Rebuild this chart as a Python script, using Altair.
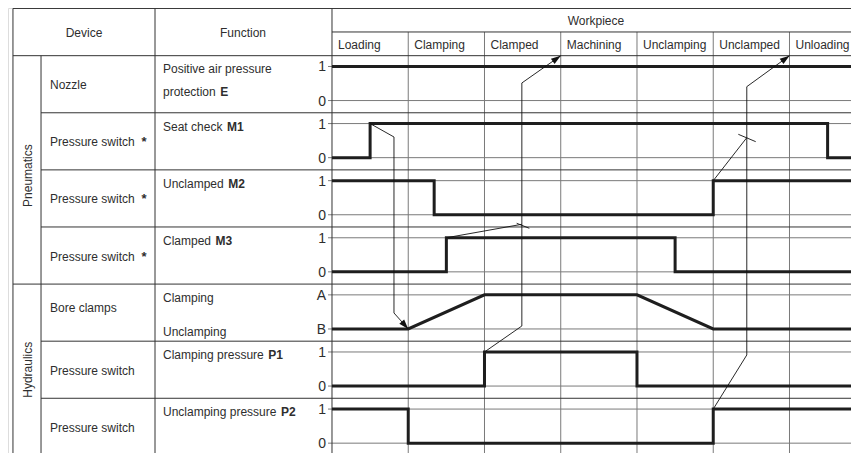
import math
import altair as alt
import pandas as pd

# ---------------- data ----------------
phases = ["Loading", "Clamping", "Clamped", "Machining", "Unclamping", "Unclamped", "Unloading"]
sections = ["Pneumatics", "Hydraulics"]
section_rows = [(0, 4), (4, 7)]
devices = ["Nozzle", "Pressure switch", "Pressure switch", "Pressure switch",
           "Bore clamps", "Pressure switch", "Pressure switch"]
device_star = [False, True, True, True, False, False, False]
function_lines = [["Positive air pressure", "protection"], ["Seat check"], ["Unclamped"],
                  ["Clamped"], ["Clamping", "Unclamping"], ["Clamping pressure"],
                  ["Unclamping pressure"]]
function_tags = ["E", "M1", "M2", "M3", "", "P1", "P2"]
level_names = [("1", "0"), ("1", "0"), ("1", "0"), ("1", "0"), ("A", "B"), ("1", "0"), ("1", "0")]

# signal breakpoints: time in workpiece phases, level (1 = high / A, 0 = low / B)
sig_times = [
    [0, 7],
    [0, 0.5, 0.5, 6.5, 6.5, 7],
    [0, 1.34, 1.34, 5, 5, 7],
    [0, 1.5, 1.5, 4.5, 4.5, 7],
    [0, 1, 2, 4, 5, 7],
    [0, 2, 2, 4, 4, 7],
    [0, 1, 1, 5, 5, 7],
]
sig_levels = [
    [1, 1],
    [0, 0, 1, 1, 0, 0],
    [1, 1, 0, 0, 1, 1],
    [0, 0, 1, 1, 0, 0],
    [0, 0, 1, 1, 0, 0],
    [0, 0, 1, 1, 0, 0],
    [1, 1, 0, 0, 1, 1],
]

# ---------------- layout ----------------
W, H = 843, 445
PX_T, PX_R = 76.25, 57.1
HI, LO = 0.189, 0.786
X0, Y0 = -4.249, -0.835
X_DOMAIN = [X0, X0 + W / PX_T]
Y_DOMAIN = [Y0, Y0 + H / PX_R]
X_LEFT, X_SECT, X_FUNC, X_DIAG, X_END = -4.184, -3.816, -2.321, 0.0, 7.0
Y_TOP, Y_SUB, Y_HEAD, Y_END = -0.827, -0.415, 0.0, 7.2
X_TICK = -0.052
X_FN_TEXT = -2.216

# connectors (time, row position)
connectors = [
    [(0.5, 1 + HI), (0.813, 1.424), (0.813, 4.506), (1.0, 4 + LO)],
    [(2.0, 5 + HI), (2.49, 4.734), (2.49, 0.478), (3.0, 0.0)],
    [(5.0, 6 + HI), (5.44, 5.242), (5.44, 0.543), (6.0, 0.0)],
    [(1.5, 3 + HI), (2.49, 2.953)],
    [(5.0, 2 + HI), (5.44, 1.436)],
]
arrow_heads = [0, 1, 2]
end_ticks = [((2.422, 2.935), (2.588, 3.023)), ((5.329, 1.377), (5.557, 1.506))]

FONT = "Liberation Sans, Arial, sans-serif"
FS = 12
TXT = "#2e2e2e"

# Arial / Liberation Sans advance widths (1/1000 em) for positioning the bold tags
ADV = dict(zip(" abcdefghijklmnopqrstuvwxyz",
               [278, 556, 556, 500, 556, 556, 278, 556, 556, 222, 222, 500, 222, 833,
                556, 556, 556, 556, 333, 500, 278, 556, 500, 722, 500, 500, 500]))
ADV.update(dict(zip("ABCDEFGHIJKLMNOPQRSTUVW",
                    [667, 667, 722, 722, 667, 611, 778, 722, 278, 500, 667, 556, 833,
                     722, 778, 667, 778, 722, 667, 611, 722, 667, 944])))


def text_width(s):
    return sum(ADV.get(ch, 556) for ch in s) * FS / 1000.0


xs = alt.Scale(domain=X_DOMAIN, range=[0, W], nice=False, zero=False)
ys = alt.Scale(domain=Y_DOMAIN, range=[0, H], nice=False, zero=False)


def X(f="x"):
    return alt.X(f"{f}:Q", scale=xs, axis=None)


def Y(f="y"):
    return alt.Y(f"{f}:Q", scale=ys, axis=None)


# ---------------- rules ----------------
border_rows, grid_rows = [], []
border_rows.append(dict(x=X_LEFT, x2=X_END, y=Y_TOP, y2=Y_TOP))
border_rows.append(dict(x=X_LEFT, x2=X_END, y=Y_HEAD, y2=Y_HEAD))
border_rows.append(dict(x=X_DIAG, x2=X_END, y=Y_SUB, y2=Y_SUB))
for r in range(1, 7):
    border_rows.append(dict(x=X_LEFT if r == 4 else X_SECT, x2=X_END, y=r, y2=r))
border_rows.append(dict(x=X_LEFT, x2=X_LEFT, y=Y_TOP, y2=Y_END))
border_rows.append(dict(x=X_SECT, x2=X_SECT, y=Y_HEAD, y2=Y_END))
border_rows.append(dict(x=X_FUNC, x2=X_FUNC, y=Y_TOP, y2=Y_END))
border_rows.append(dict(x=X_DIAG, x2=X_DIAG, y=Y_TOP, y2=Y_END))
for i in range(1, len(phases)):
    grid_rows.append(dict(x=i, x2=i, y=Y_SUB, y2=Y_END))
for r in range(len(devices)):
    for off in (HI, LO):
        grid_rows.append(dict(x=X_TICK, x2=X_END, y=r + off, y2=r + off))

borders = alt.Chart(pd.DataFrame(border_rows)).mark_rule(
    color="#333", strokeWidth=1, clip=True).encode(x=X(), x2="x2:Q", y=Y(), y2="y2:Q")
grid = alt.Chart(pd.DataFrame(grid_rows)).mark_rule(
    color="#7a7a7a", strokeWidth=1, clip=True).encode(x=X(), x2="x2:Q", y=Y(), y2="y2:Q")

# ---------------- signals ----------------
sig_rows = []
for r, (ts, vs) in enumerate(zip(sig_times, sig_levels)):
    for i, (t, v) in enumerate(zip(ts, vs)):
        sig_rows.append(dict(row=r, i=i, x=t, y=r + (HI if v == 1 else LO)))
signals = alt.Chart(pd.DataFrame(sig_rows)).mark_line(
    color="#1e1e1e", strokeWidth=3, clip=True, strokeJoin="miter").encode(
    x=X(), y=Y(), detail="row:N", order="i:Q")

# ---------------- connectors ----------------
con_rows = []
for k, pts in enumerate(connectors):
    for i, (t, u) in enumerate(pts):
        con_rows.append(dict(id=k, i=i, x=t, y=u))
conn = alt.Chart(pd.DataFrame(con_rows)).mark_line(
    color="#111", strokeWidth=0.9, clip=True).encode(x=X(), y=Y(), detail="id:N", order="i:Q")

head_rows = []
for k in arrow_heads:
    (t1, u1), (t2, u2) = connectors[k][-2], connectors[k][-1]
    ang = math.degrees(math.atan2((t2 - t1) * PX_T, -(u2 - u1) * PX_R)) % 360
    head_rows.append(dict(x=t2, y=u2, angle=ang))
heads = alt.Chart(pd.DataFrame(head_rows)).mark_point(
    shape="M0,0 L-0.33,1 L0.33,1 Z", filled=True, size=380, color="#111", opacity=1,
    strokeWidth=0).encode(x=X(), y=Y(), angle=alt.Angle("angle:Q", scale=None))

tick_rows = [dict(x=a[0], y=a[1], x2=b[0], y2=b[1]) for a, b in end_ticks]
ticks = alt.Chart(pd.DataFrame(tick_rows)).mark_rule(color="#111", strokeWidth=0.9).encode(
    x=X(), x2="x2:Q", y=Y(), y2="y2:Q")


# ---------------- text ----------------
def text_layer(rows, **kw):
    base = dict(font=FONT, fontSize=FS, color=TXT)
    base.update(kw)
    return alt.Chart(pd.DataFrame(rows)).mark_text(**base).encode(x=X(), y=Y(), text="text:N")


head_txt = text_layer([
    dict(x=-3.252, y=-0.417, text="Device"),
    dict(x=-1.167, y=-0.417, text="Function"),
    dict(x=3.462, y=-0.625, text="Workpiece"),
], align="center", baseline="middle", dy=1)

phase_txt = text_layer([dict(x=i, y=-0.21, text=p) for i, p in enumerate(phases)],
                       align="left", baseline="middle", dx=6, dy=1)

dev_txt = text_layer([dict(x=-3.698, y=r + (0.4 if d == "Bore clamps" else 0.5), text=d)
                      for r, d in enumerate(devices)], align="left", baseline="middle", dy=1)

star_txt = text_layer([dict(x=-2.498, y=r + 0.5, text="*") for r, s in enumerate(device_star) if s],
                      align="left", baseline="middle", dy=1, fontWeight="bold", fontSize=13)

line_offsets = {0: [HI, 0.59], 4: [HI, LO]}
fn_rows, tag_rows = [], []
for r, lines in enumerate(function_lines):
    offs = line_offsets.get(r, [HI])
    for j, ln in enumerate(lines):
        fn_rows.append(dict(x=X_FN_TEXT, y=r + offs[j], text=ln))
    if function_tags[r]:
        last = lines[-1]
        tag_rows.append(dict(x=X_FN_TEXT + (text_width(last) + 4.5) / PX_T,
                             y=r + offs[len(lines) - 1], text=function_tags[r]))
fn_txt = text_layer(fn_rows, align="left", baseline="middle", dy=3)
tag_txt = text_layer(tag_rows, align="left", baseline="middle", dy=3, fontWeight="bold")

lvl_rows = []
for r, (a, b) in enumerate(level_names):
    lvl_rows.append(dict(x=X_TICK, y=r + HI, text=a))
    lvl_rows.append(dict(x=X_TICK, y=r + LO, text=b))
lvl_txt = text_layer(lvl_rows, align="right", baseline="middle", dx=-2, dy=1, fontSize=14)

sec_rows = []
for name, (r0, r1) in zip(sections, section_rows):
    c = (r0 + r1) / 2 + (0.1 if r0 == 0 else 0.0)
    sec_rows.append(dict(x=-3.987, y=c, text=name))
sec_txt = text_layer(sec_rows, align="center", baseline="middle", angle=270)

chart = alt.layer(
    grid, borders, signals, conn, heads, ticks,
    head_txt, phase_txt, dev_txt, star_txt, fn_txt, tag_txt, lvl_txt, sec_txt,
).properties(
    width=W, height=H, padding=0, autosize=alt.AutoSizeParams(type="none")
).configure_view(stroke=None).configure(background="white")

chart.save("out.html", embed_options={"renderer": "svg", "actions": False})
